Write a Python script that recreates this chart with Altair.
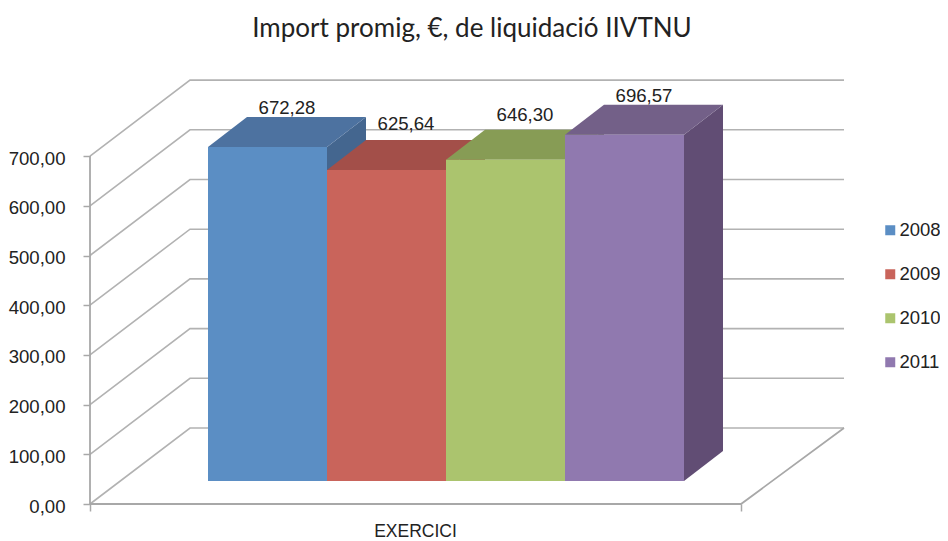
import altair as alt
import pandas as pd

TITLE = "Import promig, €, de liquidació IIVTNU"
YEARS = ["2008", "2009", "2010", "2011"]
VALUES = [672.28, 625.64, 646.30, 696.57]
LABELS = ["672,28", "625,64", "646,30", "696,57"]
FRONT = ["#5B8EC4", "#C9645B", "#ABC46E", "#9079AF"]
TOP = ["#4D72A0", "#A34F49", "#879C55", "#736088"]
SIDE = ["#44668F", "#8A423D", "#73854A", "#614D74"]
TICKS = [0, 100, 200, 300, 400, 500, 600, 700]
LABEL_DY = [-9, -16, -15, -9]

# projection geometry of the 3D box, in pixels on the x scale and value units on y
K = 0.497
W, H = 754, 424
FLOOR_W = 651
BACK_DX = 100
BACK_DY = 76 / K
BAR_X0 = 118
BAR_W = 119
BAR_BASE = 23 / K
BAR_DX = 39
BAR_DY = 30 / K

x_s = alt.Scale(domain=[0, W], range=[0, W], nice=False, zero=False)
y_s = alt.Scale(domain=[0, H / K], nice=False, zero=False)
X = alt.X("x:Q", scale=x_s, axis=alt.Axis(
    values=[0, FLOOR_W], labels=False, domain=False, grid=False, tickSize=7, tickColor="#a8a8a8",
    tickWidth=1.5, title="EXERCICI", titleFont="Liberation Sans", titleFontSize=17.5,
    titleFontWeight="normal", titleColor="#222222", titleX=325, titleY=27, titleAnchor="middle",
    titleBaseline="middle"))
Y = alt.Y("y:Q", scale=y_s, axis=alt.Axis(
    values=TICKS, domain=False, grid=False, tickSize=7, tickColor="#a8a8a8", tickWidth=1.5,
    labelExpr="replace(format(datum.value,'.2f'),'.',',')", labelFont="Liberation Sans",
    labelFontSize=18.6, labelColor="#222222", labelPadding=18, labelOffset=2, title=None))

grid_rows = []
for t in TICKS:
    grid_rows += [{"x": 0, "y": t, "k": t}, {"x": BACK_DX, "y": t + BACK_DY, "k": t},
                  {"x": W, "y": t + BACK_DY, "k": t}]
grid = alt.Chart(pd.DataFrame(grid_rows)).mark_line(color="#b2b2b2", strokeWidth=1.6).encode(X, Y, detail="k:N")

frame = pd.DataFrame([
    {"x": 0, "y": 0, "k": "front"}, {"x": FLOOR_W, "y": 0, "k": "front"},
    {"x": W, "y": BACK_DY, "k": "front"},
    {"x": 0, "y": 0, "k": "wall"}, {"x": 0, "y": 700, "k": "wall"},
])
frame_l = alt.Chart(frame).mark_line(color="#a8a8a8", strokeWidth=1.8).encode(X, Y, detail="k:N")

layers = [grid, frame_l]
for i, (yr, v) in enumerate(zip(YEARS, VALUES)):
    x0 = BAR_X0 + i * BAR_W
    x1 = x0 + BAR_W
    lo = BAR_BASE
    hi = BAR_BASE + v
    side = pd.DataFrame([{"x": x1, "y": lo, "y2": hi},
                         {"x": x1 + BAR_DX, "y": lo + BAR_DY, "y2": hi + BAR_DY}])
    top = pd.DataFrame([{"x": x0, "y": hi, "y2": hi},
                        {"x": x0 + BAR_DX, "y": hi, "y2": hi + BAR_DY},
                        {"x": x1, "y": hi, "y2": hi + BAR_DY},
                        {"x": x1 + BAR_DX, "y": hi + BAR_DY, "y2": hi + BAR_DY}])
    front = pd.DataFrame([{"x": x0, "x2": x1, "y": lo, "y2": hi, "year": yr}])
    layers.append(alt.Chart(side).mark_area(orient="vertical", color=SIDE[i]).encode(X, Y, y2="y2:Q"))
    layers.append(alt.Chart(top).mark_area(orient="vertical", color=TOP[i]).encode(X, Y, y2="y2:Q"))
    layers.append(alt.Chart(front).mark_rect().encode(
        X, x2="x2:Q", y=Y, y2="y2:Q",
        color=alt.Color("year:N", scale=alt.Scale(domain=YEARS, range=FRONT), legend=alt.Legend(
            title=None, orient="none", legendX=791, legendY=141, symbolType="square", symbolSize=100,
            symbolStrokeWidth=0, labelFont="Liberation Sans", labelFontSize=18.5, labelColor="#222222",
            labelOffset=0, rowPadding=25, padding=0))))

for i, (lab, v) in enumerate(zip(LABELS, VALUES)):
    tx = BAR_X0 + i * BAR_W + BAR_W / 2 + BAR_DX / 2
    d = pd.DataFrame([{"x": tx, "y": BAR_BASE + v + BAR_DY, "t": lab}])
    layers.append(alt.Chart(d).mark_text(
        font="Liberation Sans", fontSize=18.6, color="#222222", dy=LABEL_DY[i], baseline="middle"
    ).encode(X, Y, text="t:N"))

chart = alt.layer(*layers).properties(
    width=W, height=H, background="white",
    title=alt.TitleParams(TITLE, font="Lato", fontSize=26, fontWeight="normal", color="#222222",
                          anchor="middle", offset=35, dx=5),
    autosize=alt.AutoSizeParams(type="none"),
    padding={"left": 82, "top": 72, "right": 96, "bottom": 35},
).configure_view(stroke=None)

chart.save("out.html", embed_options={"renderer": "svg", "actions": False})
